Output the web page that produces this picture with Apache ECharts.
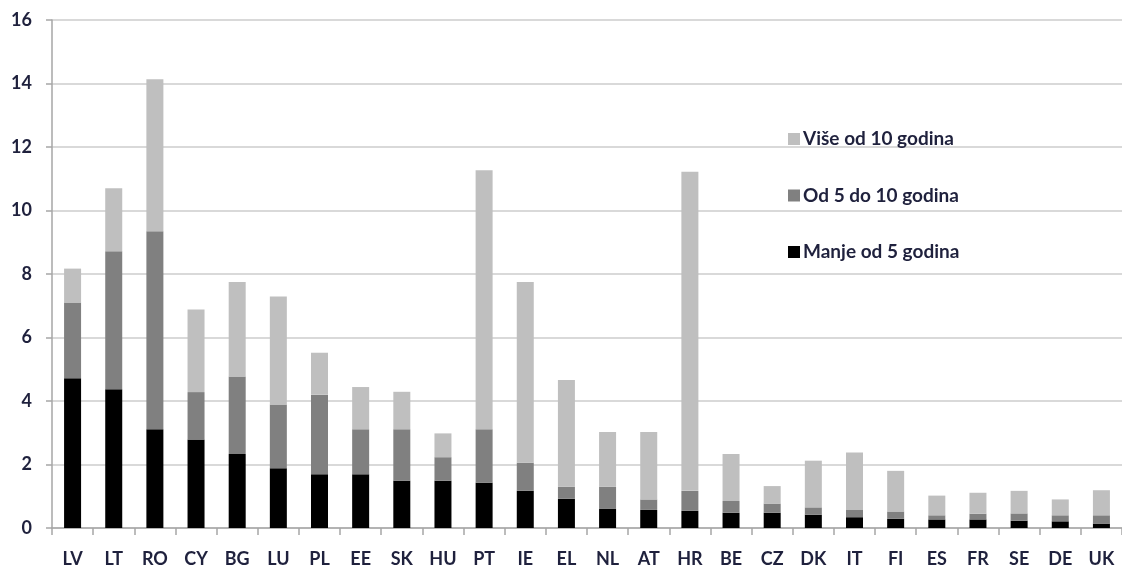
<!DOCTYPE html>
<html>
<head>
<meta charset="utf-8">
<script src="https://cdn.jsdelivr.net/npm/echarts@6/dist/echarts.min.js"></script>
<style>
html,body{margin:0;padding:0;background:#fff;}
#chart{width:1122px;height:569px;}
</style>
</head>
<body>
<div id="chart"></div>
<script>
const categories = ['LV','LT','RO','CY','BG','LU','PL','EE','SK','HU','PT','IE','EL','NL','AT','HR','BE','CZ','DK','IT','FI','ES','FR','SE','DE','UK'];
const seriesNames = ['Manje od 5 godina','Od 5 do 10 godina','Više od 10 godina'];
const manjeOd5 = [4.72,4.37,3.11,2.79,2.33,1.88,1.69,1.69,1.49,1.49,1.43,1.17,0.92,0.60,0.57,0.54,0.48,0.48,0.42,0.34,0.29,0.27,0.27,0.23,0.21,0.14];
const od5do10 = [2.38,4.35,6.24,1.49,2.44,2.01,2.51,1.42,1.62,0.74,1.68,0.89,0.38,0.70,0.33,0.63,0.37,0.29,0.23,0.23,0.23,0.13,0.18,0.23,0.19,0.26];
const viseOd10 = [1.07,1.98,4.78,2.60,2.98,3.40,1.32,1.33,1.18,0.75,8.16,5.69,3.36,1.72,2.12,10.05,1.48,0.55,1.47,1.81,1.28,0.62,0.66,0.71,0.50,0.79];
const yTicks = {min:0, max:16, interval:2};

const colors = ['#000000','#808080','#bfbfbf'];
const font = 'Lato, "Open Sans", sans-serif';
const textColor = '#1f213d';

const chart = echarts.init(document.getElementById('chart'), null, {renderer:'canvas'});
const dataSets = [manjeOd5, od5do10, viseOd10];
chart.setOption({
  animation:false,
  backgroundColor:'#ffffff',
  grid:{left:52, top:20, width:1076, height:508, containLabel:false},
  legend:{
    orient:'vertical',
    left:783, top:124,
    itemWidth:12, itemHeight:12, itemGap:36.5,
    icon:'rect',
    data:[seriesNames[2], seriesNames[1], seriesNames[0]],
    textStyle:{fontFamily:font, fontSize:19, fontWeight:'bold', color:textColor, lineHeight:20, padding:[0,0,0,-2]}
  },
  xAxis:{
    type:'category',
    data:categories,
    boundaryGap:true,
    axisLine:{show:true, lineStyle:{color:'#a6a6a6', width:1.5}},
    axisTick:{show:true, length:7, lineStyle:{color:'#a6a6a6', width:1.5}},
    axisLabel:{margin:22, fontFamily:font, fontSize:18, fontWeight:'bold', color:textColor}
  },
  yAxis:{
    type:'value',
    min:yTicks.min, max:yTicks.max, interval:yTicks.interval,
    axisLine:{show:true, lineStyle:{color:'#a6a6a6', width:1.5}},
    axisTick:{show:true, length:6, lineStyle:{color:'#a6a6a6', width:1.5}},
    splitLine:{show:true, lineStyle:{color:'#cccccc', width:1.5}},
    axisLabel:{margin:20, fontFamily:font, fontSize:18, fontWeight:'bold', color:textColor}
  },
  series: seriesNames.map((name,i)=>({
    name:name,
    type:'bar',
    stack:'total',
    barWidth:17,
    itemStyle:{color:colors[i]},
    data:dataSets[i]
  }))
});
</script>
</body>
</html>
